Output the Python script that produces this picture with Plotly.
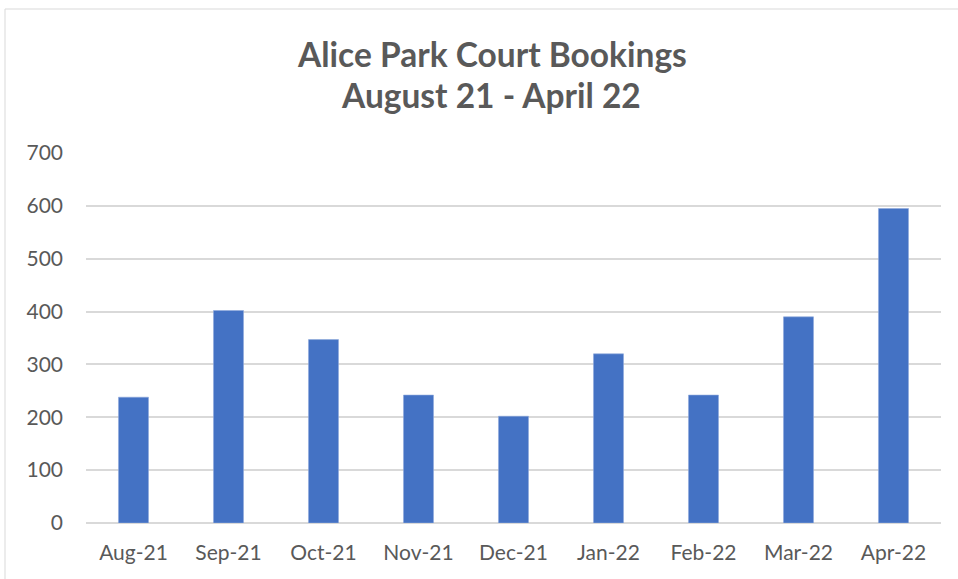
import plotly.graph_objects as go

months = ["Aug-21", "Sep-21", "Oct-21", "Nov-21", "Dec-21", "Jan-22", "Feb-22", "Mar-22", "Apr-22"]
bookings = [238, 402, 347, 242, 202, 320, 242, 390, 595]
y_ticks = [0, 100, 200, 300, 400, 500, 600, 700]
title_line1 = "Alice Park Court Bookings"
title_line2 = "August 21 - April 22"

W, H = 958, 579
ml, mr, mt, mb = 86, 17, 153, 56
pw = W - ml - mr
ph = H - mt - mb

def px_to_paper_x(px):
    return (px - ml) / pw

def px_to_paper_y(py):
    return (H - mb - py) / ph

fig = go.Figure(go.Bar(
    x=months, y=bookings,
    marker=dict(color="#4472C4", line=dict(width=0.6, color="#8FAADC")),
    width=0.316,
))

txt = "#595959"
fig.update_layout(
    width=W, height=H,
    margin=dict(l=ml, r=mr, t=mt, b=mb),
    paper_bgcolor="white", plot_bgcolor="white",
    showlegend=False,
    font=dict(family="Lato, Open Sans, sans-serif", color=txt, size=21),
    xaxis=dict(showgrid=False, showline=False, zeroline=False, ticks="",
               tickfont=dict(size=21, color=txt), ticklabelstandoff=15),
    yaxis=dict(range=[0, 700], tickvals=y_ticks, showgrid=True, gridcolor="#D9D9D9",
               gridwidth=1.5, zeroline=True, zerolinecolor="#D9D9D9", zerolinewidth=1.5,
               showline=False, ticks="", tickfont=dict(size=21, color=txt),
               ticklabelstandoff=22),
    annotations=[
        dict(text="<b>%s</b>" % title_line1, xref="paper", yref="paper",
             x=px_to_paper_x(492), y=px_to_paper_y(54), showarrow=False,
             xanchor="center", yanchor="middle", font=dict(size=33.5, color=txt)),
        dict(text="<b>%s</b>" % title_line2, xref="paper", yref="paper",
             x=px_to_paper_x(491), y=px_to_paper_y(95), showarrow=False,
             xanchor="center", yanchor="middle", font=dict(size=33.5, color=txt)),
    ],
    shapes=[dict(type="rect", xref="paper", yref="paper",
                 x0=px_to_paper_x(5), x1=px_to_paper_x(965),
                 y0=px_to_paper_y(590), y1=px_to_paper_y(9),
                 line=dict(color="#D9D9D9", width=1), layer="below")],
)

fig.write_html("out.html", config={"displayModeBar": False},
               post_script="document.body.style.margin='0';document.body.style.overflow='hidden';")
